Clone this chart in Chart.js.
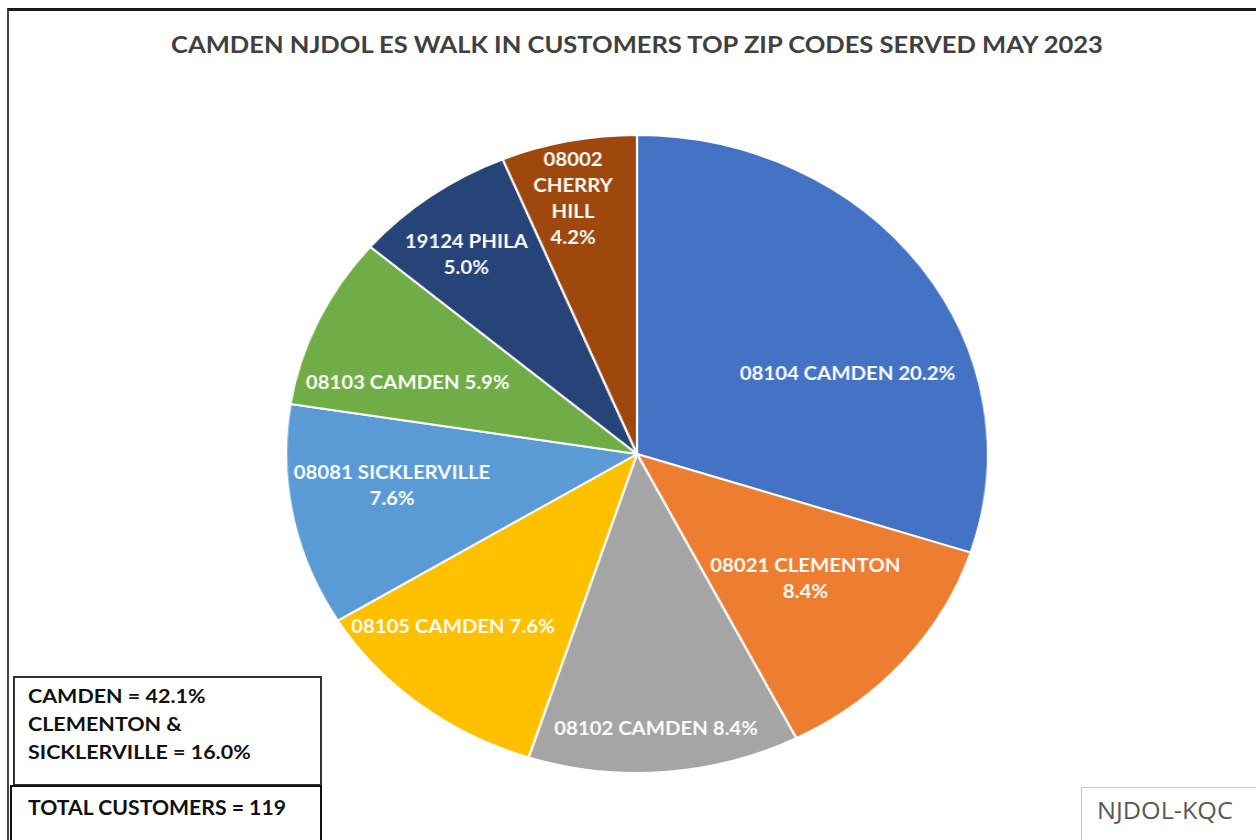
<!DOCTYPE html>
<html>
<head>
<meta charset="utf-8">
<script src="https://cdn.jsdelivr.net/npm/chart.js@4.4.0/dist/chart.umd.min.js"></script>
<style>
  body { margin: 0; background: #fff; width: 1256px; height: 840px; overflow: hidden; position: relative; font-family: Lato, 'Open Sans', sans-serif; }
  .frame { position: absolute; left: 7px; top: 8px; width: 1300px; height: 900px; border-top: 3px solid #1a1a1a; border-left: 2px solid #444; }
  .title { position: absolute; top: 31px; left: 0; width: 1274px; text-align: center; font-weight: bold; font-size: 22px; color: #404040; white-space: nowrap; transform: scaleX(1.16); transform-origin: 637px 0; }
  #pieWrap { position: absolute; left: 317px; top: 124px; width: 640px; height: 660px; transform: scaleX(1.1); transform-origin: 320px 330px; }
  .note { position: absolute; background: #fff; color: #111; font-weight: bold; font-size: 19px; line-height: 28px; box-sizing: border-box; white-space: nowrap; }
  .note span { display: inline-block; transform-origin: 0 0; }
  .note1 { left: 13px; top: 676px; width: 309px; height: 110px; border: 2px solid #333; padding: 4px 0 0 13px; }
  .note1 span { transform: scaleX(1.13); }
  .note2 { left: 10px; top: 785px; width: 312px; height: 70px; border: 2px solid #111; padding: 6px 0 0 16px; font-size: 20px; }
  .note2 span { transform: scaleX(1.06); }
  .stamp { position: absolute; left: 1081px; top: 787px; width: 200px; height: 80px; border-top: 1px solid #c8c8c8; border-left: 1px solid #c8c8c8; color: #595959; font-family: 'Open Sans', sans-serif; font-size: 24px; padding: 5px 0 0 15px; box-sizing: border-box; }
  .stamp span { display: inline-block; transform: scaleX(1.05); transform-origin: 0 0; }
</style>
</head>
<body>
<div class="frame"></div>
<div class="title">CAMDEN NJDOL ES WALK IN CUSTOMERS TOP ZIP CODES SERVED MAY 2023</div>
<div id="pieWrap"><canvas id="pie" width="640" height="660"></canvas></div>
<div class="note note1"><span>CAMDEN = 42.1%<br>CLEMENTON &amp;<br>SICKLERVILLE = 16.0%</span></div>
<div class="note note2"><span>TOTAL CUSTOMERS = 119</span></div>
<div class="stamp"><span>NJDOL-KQC</span></div>

<script>
// ---- data (customer counts by zip, clockwise from 12 o'clock) ----
const zipCodes  = ['08104', '08021', '08102', '08105', '08081', '08103', '19124', '08002'];
const places    = ['CAMDEN', 'CLEMENTON', 'CAMDEN', 'CAMDEN', 'SICKLERVILLE', 'CAMDEN', 'PHILA', 'CHERRY HILL'];
const customers = [24, 10, 10, 9, 9, 7, 6, 5];
const totalCustomers = 119;
const sliceColors = ['#4472C4', '#ED7D31', '#A5A5A5', '#FFC000', '#5B9BD5', '#70AD47', '#264478', '#9E480E'];

const pct = v => (v / totalCustomers * 100).toFixed(1) + '%';

// how each data label wraps, as Excel laid it out
function labelLines(i) {
  const p = pct(customers[i]);
  switch (i) {
    case 1: case 4: case 6: return [zipCodes[i] + ' ' + places[i], p];
    case 7: return [zipCodes[i], 'CHERRY', 'HILL', p];
    default: return [zipCodes[i] + ' ' + places[i] + ' ' + p];
  }
}

// label placement: angle shift (deg, clockwise) from slice middle, and radius fraction
const labelPlace = [
  [13.4, 0.65], [-1.2, 0.62], [0.9, 0.865], [5.8, 0.755],
  [3.0, 0.705], [-6.0, 0.69], [-2.0, 0.79], [-1.6, 0.82],
];

const sliceLabels = {
  id: 'sliceLabels',
  afterDatasetsDraw(chart) {
    const ctx = chart.ctx;
    const arcs = chart.getDatasetMeta(0).data;
    ctx.save();
    ctx.fillStyle = '#fff';
    ctx.font = 'bold 18.5px Lato, sans-serif';
    ctx.textAlign = 'center';
    ctx.textBaseline = 'middle';
    arcs.forEach((arc, i) => {
      const { x, y, startAngle, endAngle, outerRadius } = arc.getProps(['x', 'y', 'startAngle', 'endAngle', 'outerRadius'], true);
      const [shift, frac] = labelPlace[i];
      const a = (startAngle + endAngle) / 2 + shift * Math.PI / 180;
      const cx = x + Math.cos(a) * outerRadius * frac;
      const cy = y + Math.sin(a) * outerRadius * frac;
      const lines = labelLines(i);
      const lh = 26;
      lines.forEach((t, k) => {
        ctx.fillText(t, cx, cy + (k - (lines.length - 1) / 2) * lh);
      });
    });
    ctx.restore();
  }
};

new Chart(document.getElementById('pie'), {
  type: 'pie',
  data: {
    labels: zipCodes.map((z, i) => z + ' ' + places[i]),
    datasets: [{
      data: customers,
      backgroundColor: sliceColors,
      borderColor: '#ffffff',
      borderWidth: 2,
    }],
  },
  options: {
    responsive: false,
    animation: false,
    layout: { padding: 0 },
    plugins: {
      legend: { display: false },
      tooltip: { enabled: false },
      title: { display: false },
    },
  },
  plugins: [sliceLabels],
});
</script>
</body>
</html>
